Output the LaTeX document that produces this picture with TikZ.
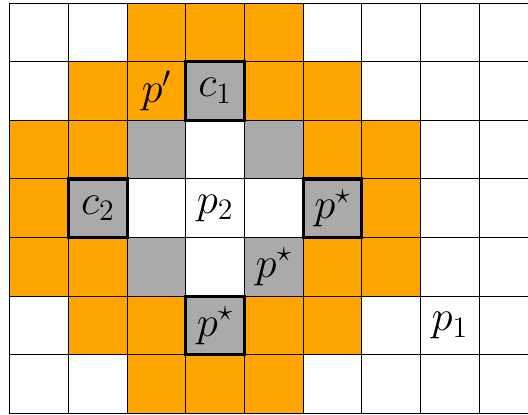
\documentclass[tikz,border=0pt]{standalone}
\usepackage{amsmath,amssymb}
\usepackage{tikz}
\usetikzlibrary{positioning}
\usepackage{xcolor}
\definecolor{hull}{HTML}{FFA500}
\definecolor{inner}{HTML}{AAAAAA}

\begin{document}
\begin{tikzpicture}[
  gridline/.style={line width=0.5pt, black},
  tag/.style={minimum size=1cm, inner sep=0pt, font=\huge},
  shaded/.style={tag, draw, fill=inner, line width=0.5pt},
  picked/.style={tag, draw, fill=inner, line width=1.5pt}
]
  \useasboundingbox (-0.17,0.051) rectangle (8.832,-7.008);

  % orange ring
  \foreach \c/\r in {2/0,3/0,4/0, 1/1,2/1,4/1,5/1, 0/2,1/2,5/2,6/2, 0/3,6/3,
                     0/4,1/4,5/4,6/4, 1/5,2/5,4/5,5/5, 2/6,3/6,4/6}
    \fill[hull] (\c,-\r) rectangle ++(1,-1);
  % gray cells
  \foreach \c/\r in {2/2,4/2,2/4}
    \fill[inner] (\c,-\r) rectangle ++(1,-1);

  \draw[gridline] (0,-7) grid (9,0);

  \node[tag]    (pp) at (2.5,-1.5) {$p'$};
  \node[tag]    (p2) at (3.5,-3.5) {$p_2$};
  \node[tag]    (p1) at (7.5,-5.5) {$p_1$};
  \node[shaded] (s2) at (4.5,-4.5) {$p^\star$};

  \node[picked] (c1) at (3.5,-1.5) {$c_1$};
  \node[picked] (c2) at (1.5,-3.5) {$c_2$};
  \node[picked] (s1) at (5.5,-3.5) {$p^\star$};
  \node[picked] (s3) at (3.5,-5.5) {$p^\star$};
\end{tikzpicture}
\end{document}
